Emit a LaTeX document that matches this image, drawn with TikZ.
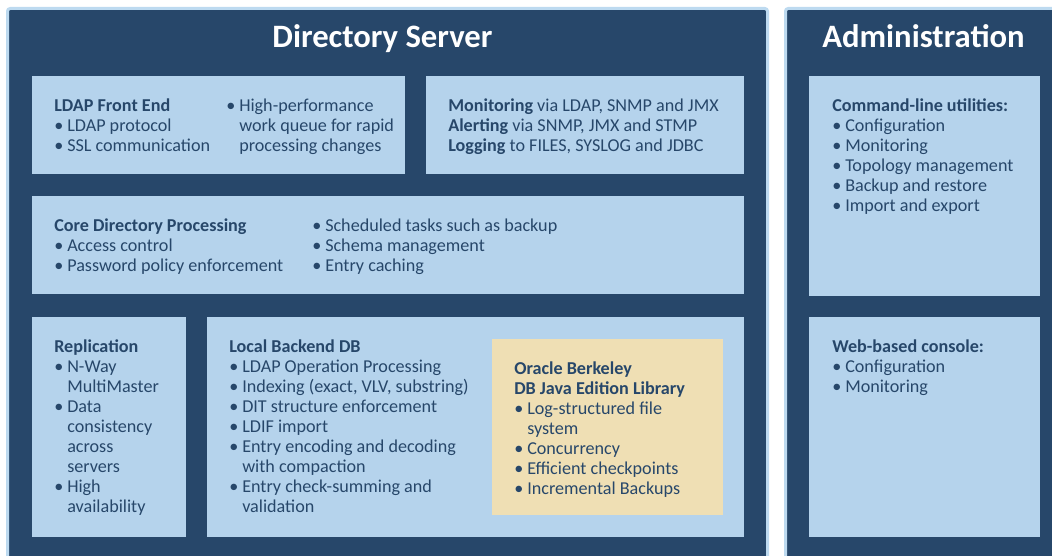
\documentclass[tikz,border=0pt]{standalone}
\usepackage{fontspec}
\setmainfont{Carlito}
\usepackage{tikz}
\usetikzlibrary{positioning}

\definecolor{navy}{HTML}{27476A}
\definecolor{cardblue}{HTML}{B5D3EC}
\definecolor{edgeblue}{HTML}{BDDAF0}
\definecolor{sand}{HTML}{EFDFB4}

\newcommand{\bul}{\makebox[9.75pt][l]{•}}
\newcommand{\indt}{\hspace*{9.75pt}}

\tikzset{
  panel/.style={draw=edgeblue, line width=2.25pt, fill=navy, rounded corners=2pt},
  card/.style={fill=cardblue},
  lib/.style={fill=sand},
  txt/.style={anchor=north west, align=left, inner sep=0pt, text=navy,
    font=\fontsize{13.6}{15.05}\selectfont,
    execute at begin node=\rule{0pt}{10.2pt}},
  title/.style={anchor=base, inner sep=0pt, text=white,
    font=\bfseries\fontsize{24.5}{28}\selectfont}
}

\begin{document}
\begin{tikzpicture}[x=0.75pt, y=-0.75pt]
  \useasboundingbox (0,0) rectangle (1052,556);

  % the two outer panels
  \draw[panel] (7.5,8.5) rectangle (767.5,580);
  \draw[panel] (785.5,8.5) rectangle (1080,580);
  \node[title] (dstitle) at (382.5,47.5) {Directory Server};
  \node[title] (admtitle) at (923.5,47.5) {Administration};

  % directory server blocks
  \fill[card] (32,76) rectangle (405,174);
  \node[txt] (front) at (54,98.2) {\textbf{LDAP Front End}\\
    \bul LDAP protocol\\
    \bul SSL communication};
  \node[txt] (queue) at (226,98.2) {\bul High-performance\\
    \indt work queue for rapid\\
    \indt processing changes};

  \fill[card] (426,76) rectangle (744,174);
  \node[txt] (monitor) at (448,98.2) {\textbf{Monitoring} via LDAP, SNMP and JMX\\
    \textbf{Alerting} via SNMP, JMX and STMP\\
    \textbf{Logging} to FILES, SYSLOG and JDBC};

  \fill[card] (32,196) rectangle (744,294);
  \node[txt] (core) at (54,218.2) {\textbf{Core Directory Processing}\\
    \bul Access control\\
    \bul Password policy enforcement};
  \node[txt] (tasks) at (312,218.2) {\bul Scheduled tasks such as backup\\
    \bul Schema management\\
    \bul Entry caching};

  \fill[card] (32,317) rectangle (186,537);
  \node[txt] (repl) at (54,339.4) {\textbf{Replication}\\
    \bul N-Way\\
    \indt MultiMaster\\
    \bul Data\\
    \indt consistency\\
    \indt across\\
    \indt servers\\
    \bul High\\
    \indt availability};

  \fill[card] (207,317) rectangle (744,537);
  \node[txt] (backend) at (229,339.4) {\textbf{Local Backend DB}\\
    \bul LDAP Operation Processing\\
    \bul Indexing (exact, VLV, substring)\\
    \bul DIT structure enforcement\\
    \bul LDIF import\\
    \bul Entry encoding and decoding\\
    \indt with compaction\\
    \bul Entry check-summing and\\
    \indt validation};

  \fill[lib] (492,339) rectangle (723,515);
  \node[txt] (berkeley) at (514,361.2) {\textbf{Oracle Berkeley}\\
    \textbf{DB Java Edition Library}\\
    \bul Log-structured file\\
    \indt system\\
    \bul Concurrency\\
    \bul Efficient checkpoints\\
    \bul Incremental Backups};

  % administration blocks
  \fill[card] (809,76) rectangle (1040,296);
  \node[txt] (cli) at (832,98.2) {\textbf{Command-line utilities:}\\
    \bul Configuration\\
    \bul Monitoring\\
    \bul Topology management\\
    \bul Backup and restore\\
    \bul Import and export};

  \fill[card] (809,317) rectangle (1040,537);
  \node[txt] (web) at (832,339.4) {\textbf{Web-based console:}\\
    \bul Configuration\\
    \bul Monitoring};
\end{tikzpicture}
\end{document}
